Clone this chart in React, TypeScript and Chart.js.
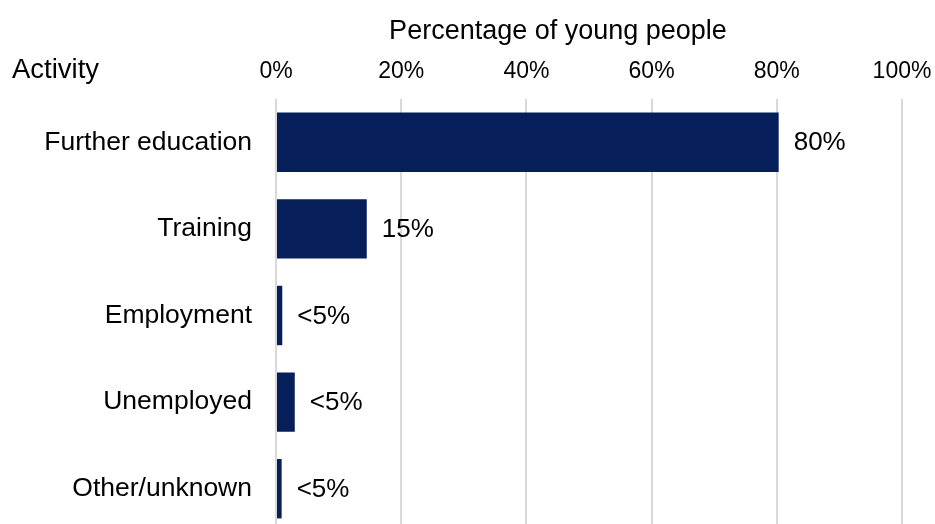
import React, { useEffect, useRef } from "react";
import { Chart, registerables } from "chart.js";

Chart.register(...registerables);

const categories = ["Further education", "Training", "Employment", "Unemployed", "Other/unknown"];
const values = [80.3, 14.5, 1.0, 3.0, 0.9];
const valueLabels = ["80%", "15%", "<5%", "<5%", "<5%"];
const xMin = 0;
const xMax = 100;
const xStep = 20;
const xTitle = "Percentage of young people";
const yTitle = "Activity";

const FONT = "'Liberation Sans', Arial, sans-serif";
const BAR_COLOR = "#061E5A";

export default function App() {
  const ref = useRef<HTMLCanvasElement | null>(null);

  useEffect(() => {
    if (!ref.current) return;
    const labelsPlugin = {
      id: "valueLabels",
      afterDatasetsDraw(chart: any) {
        const ctx = chart.ctx;
        const meta = chart.getDatasetMeta(0);
        ctx.save();
        ctx.font = `26px ${FONT}`;
        ctx.fillStyle = "#000";
        ctx.textAlign = "left";
        ctx.textBaseline = "middle";
        meta.data.forEach((bar: any, i: number) => {
          ctx.fillText(valueLabels[i], bar.x + 15, bar.y + 1);
        });
        ctx.restore();
      },
    };
    const titlesPlugin = {
      id: "titles",
      afterDraw(chart: any) {
        const ctx = chart.ctx;
        ctx.save();
        ctx.font = `27px ${FONT}`;
        ctx.fillStyle = "#000";
        ctx.textBaseline = "middle";
        ctx.textAlign = "center";
        ctx.fillText(xTitle, 558, 32);
        ctx.textAlign = "left";
        ctx.font = `27.5px ${FONT}`;
        ctx.fillText(yTitle, 12, 70);
        ctx.restore();
      },
    };
    const chart = new Chart(ref.current, {
      type: "bar",
      data: {
        labels: categories,
        datasets: [
          {
            data: values,
            backgroundColor: BAR_COLOR,
            borderWidth: 0,
            categoryPercentage: 1,
            barPercentage: 0.686,
          },
        ],
      },
      options: {
        indexAxis: "y",
        responsive: false,
        animation: false,
        devicePixelRatio: 1,
        layout: { padding: { left: 0, right: 33, top: 0, bottom: 0 } },
        plugins: {
          legend: { display: false },
          tooltip: { enabled: false },
          title: { display: false },
        },
        scales: {
          x: {
            position: "top",
            min: xMin,
            max: xMax,
            ticks: {
              stepSize: xStep,
              callback: (v: any) => `${v}%`,
              font: { family: FONT, size: 23 },
              color: "#000",
              padding: 14,
            },
            grid: { color: "#d9d9d9", lineWidth: 2, drawTicks: false },
            border: { display: false },
            afterFit: (s: any) => {
              s.height = 99;
              s.paddingLeft = 0;
              s.paddingRight = 0;
            },
          },
          y: {
            ticks: {
              font: { family: FONT, size: 26.5 },
              color: "#000",
              padding: 24,
            },
            grid: { display: false, drawTicks: false },
            border: { display: false },
            afterFit: (s: any) => {
              s.width = 276;
              s.paddingTop = 0;
              s.paddingBottom = 0;
            },
          },
        },
      },
      plugins: [labelsPlugin, titlesPlugin],
    });
    return () => chart.destroy();
  }, []);

  return (
    <div
      style={{
        position: "fixed",
        left: 0,
        top: 0,
        width: 935,
        height: 524,
        overflow: "hidden",
        background: "#fff",
      }}
    >
      <canvas ref={ref} width={935} height={532} style={{ display: "block" }} />
    </div>
  );
}
